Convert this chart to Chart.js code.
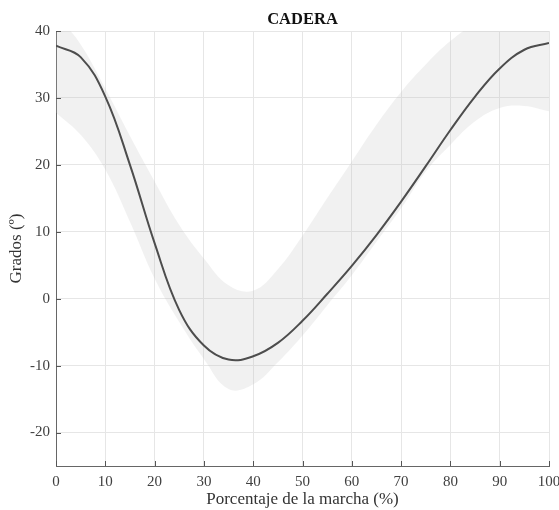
<!DOCTYPE html>
<html>
<head>
<meta charset="utf-8">
<script src="https://cdn.jsdelivr.net/npm/chart.js@4"></script>
<style>
    body { margin: 0; background: #fff; }
    #wrap { width: 559px; height: 510px; }
</style>
</head>
<body>
<div id="wrap"><canvas id="hipChart"></canvas></div>
<script>
// --- Data ---
const pct = [0, 5, 10, 15, 20, 25, 30, 35, 40, 45, 50, 55, 60, 65, 70, 75, 80, 85, 90, 95, 100];
const meanAngle = [37.8, 36.1, 30.2, 20, 8.3, -1.7, -7, -9.1, -8.6, -6.6, -3.3, 0.7, 4.9, 9.5, 14.5, 19.8, 25.2, 30.2, 34.4, 37.2, 38.2];
const upperBand = [42.5, 38, 31.4, 24.3, 17.5, 11, 6, 2, 1.2, 4.4, 9.4, 15, 20.5, 26, 30.9, 35, 38.5, 41, 42, 42, 40.5];
const lowerBand = [27.8, 24.5, 19.3, 11.5, 3, -3.5, -9, -13.5, -12.8, -9.5, -5.5, -1, 3.5, 8.5, 13.5, 19, 23, 26.5, 28.5, 28.8, 28];
const xTicks = [0, 10, 20, 30, 40, 50, 60, 70, 80, 90, 100];
const yTicks = [-20, -10, 0, 10, 20, 30, 40];

const serif = "'Liberation Serif', 'Times New Roman', serif";
const toPoints = arr => pct.map((x, i) => ({ x: x, y: arr[i] }));

// title centred over the plot area + small inward tick marks (MATLAB style)
const matlabLook = {
    id: 'matlabLook',
    afterDraw(chart) {
        const { ctx, chartArea, scales } = chart;
        ctx.save();
        ctx.strokeStyle = '#555';
        ctx.lineWidth = 1;
        ctx.beginPath();
        scales.x.ticks.forEach(t => {
            const px = Math.round(scales.x.getPixelForValue(t.value)) + 0.5;
            ctx.moveTo(px, chartArea.bottom);
            ctx.lineTo(px, chartArea.bottom - 5);
        });
        scales.y.ticks.forEach(t => {
            const py = Math.round(scales.y.getPixelForValue(t.value)) + 0.5;
            ctx.moveTo(chartArea.left, py);
            ctx.lineTo(chartArea.left + 5, py);
        });
        ctx.stroke();

        ctx.fillStyle = '#111';
        ctx.font = 'bold 16.5px ' + serif;
        ctx.textAlign = 'center';
        ctx.textBaseline = 'middle';
        ctx.fillText('CADERA', (chartArea.left + chartArea.right) / 2, 20);
        ctx.restore();
    }
};

new Chart(document.getElementById('hipChart').getContext('2d'), {
    type: 'line',
    data: {
        datasets: [
            {
                label: 'Media',
                data: toPoints(meanAngle),
                borderColor: '#4d4d4d',
                borderWidth: 2,
                pointRadius: 0,
                tension: 0.4,
                fill: false
            },
            {
                label: 'Superior',
                data: toPoints(upperBand),
                borderWidth: 0,
                borderColor: 'rgba(0,0,0,0)',
                backgroundColor: 'rgba(190,190,190,0.22)',
                pointRadius: 0,
                tension: 0.4,
                fill: '+1'
            },
            {
                label: 'Inferior',
                data: toPoints(lowerBand),
                borderWidth: 0,
                borderColor: 'rgba(0,0,0,0)',
                pointRadius: 0,
                tension: 0.4,
                fill: false
            }
        ]
    },
    options: {
        responsive: true,
        maintainAspectRatio: false,
        animation: false,
        layout: { padding: { top: 31, right: 10, left: 0, bottom: 0 } },
        plugins: {
            legend: { display: false },
            tooltip: { enabled: false }
        },
        scales: {
            x: {
                type: 'linear',
                min: 0,
                max: 100,
                afterBuildTicks: s => { s.ticks = xTicks.map(v => ({ value: v })); },
                afterFit: s => { s.height = 44; s.paddingLeft = 0; s.paddingRight = 0; },
                grid: { color: '#e6e6e6', drawTicks: false },
                border: { color: '#666', width: 1 },
                ticks: { padding: 7, color: '#404040', font: { family: serif, size: 15 } },
                title: {
                    display: true,
                    text: 'Porcentaje de la marcha (%)',
                    color: '#333',
                    font: { family: serif, size: 17 },
                    padding: { top: 0, bottom: 0 }
                }
            },
            y: {
                min: -25,
                max: 40,
                afterBuildTicks: s => { s.ticks = yTicks.map(v => ({ value: v })); },
                afterFit: s => { s.width = 56; },
                grid: { color: '#e6e6e6', drawTicks: false },
                border: { color: '#666', width: 1 },
                ticks: { padding: 6, color: '#404040', font: { family: serif, size: 15 } },
                title: {
                    display: true,
                    text: 'Grados (º)',
                    color: '#333',
                    font: { family: serif, size: 17 },
                    padding: { top: 6, bottom: 0 }
                }
            }
        }
    },
    plugins: [matlabLook]
});
</script>
</body>
</html>
